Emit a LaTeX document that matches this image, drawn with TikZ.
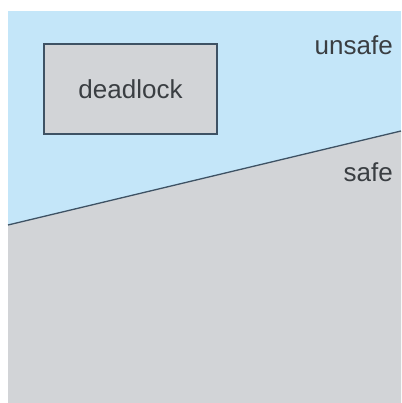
\documentclass[tikz,border=0pt]{standalone}
\usepackage{fontspec}
\setmainfont{Liberation Sans}
\usetikzlibrary{calc}

\definecolor{unsafeblue}{RGB}{196,230,249}
\definecolor{safegray}{RGB}{210,212,215}
\definecolor{edgeslate}{RGB}{62,82,100}
\definecolor{labelgray}{RGB}{58,62,66}

\tikzset{
  deadbox/.style={draw=edgeslate, line width=1.2pt, fill=safegray,
    minimum width=173pt, minimum height=90pt, inner sep=0pt,
    text=labelgray, font=\fontsize{26}{30}\selectfont},
  regionlabel/.style={anchor=base east, inner sep=0pt,
    text=labelgray, font=\fontsize{26}{30}\selectfont}
}

\begin{document}
\begin{tikzpicture}[x=1pt,y=1pt]
		% Size of the whole picture, with its white margins
		\def\picWidth{401}
		\def\picHeight{403}
		\useasboundingbox (0,0) rectangle (\picWidth,\picHeight);
		
		% Corners of the coloured area and ends of the boundary line
		\coordinate (BL) at (8,0);
		\coordinate (TR) at (\picWidth,392);
		\coordinate (L) at (8,178);
		\coordinate (R) at (\picWidth,272);
		
		% Fill the unsafe area (blue) and the safe area (gray)
		\fill[unsafeblue] (BL) rectangle (TR);
		\fill[safegray] (BL) -- (L) -- (R) -- (\picWidth,0) -- cycle;
		
		% Draw the boundary between safe and unsafe
		\draw[edgeslate, line width=1.3pt] (L) -- (R);
		
		% Draw the box with label "deadlock"
		\node[deadbox] (deadlock) at (130.5,314) {deadlock};
		
		% Labels of the two areas
		\node[regionlabel] (unsafe) at (393,348) {unsafe};
		\node[regionlabel] (safe) at (393,221) {safe};
	\end{tikzpicture}
\end{document}
